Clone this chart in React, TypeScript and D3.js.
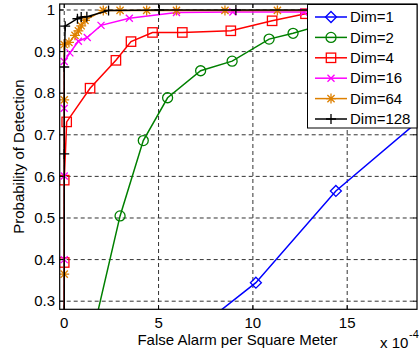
import React from "react";
import * as d3 from "d3";

const xTicks = [0, 5, 10, 15];
const yTicks = [0.3, 0.4, 0.5, 0.6, 0.7, 0.8, 0.9, 1];
const yTickLabels = ["0.3", "0.4", "0.5", "0.6", "0.7", "0.8", "0.9", "1"];

const dim1X = [6.0, 10.16, 14.4, 20.0];
const dim1Y = [0.196, 0.3445, 0.565, 0.78];

const dim2X = [1.5, 2.96, 4.19, 5.48, 7.23, 8.9, 10.86, 12.13, 14.5];
const dim2Y = [0.22, 0.505, 0.686, 0.789, 0.854, 0.877, 0.93, 0.944, 0.975];

const dim4X = [0, 0, 0, 0.13, 1.37, 2.74, 3.54, 4.68, 6.26, 8.83, 11.02, 12.79, 15.5];
const dim4Y = [0.2, 0.393, 0.591, 0.731, 0.812, 0.879, 0.924, 0.946, 0.946, 0.95, 0.974, 0.991, 0.998];

const dim16X = [0, 0, 0, 0, 0, 0.3, 0.75, 1.22, 1.95, 3.45, 5.95, 8.94, 12.7, 16];
const dim16Y = [0.2, 0.4, 0.601, 0.764, 0.876, 0.897, 0.925, 0.934, 0.963, 0.98, 0.994, 0.995, 0.995, 0.998];

const dim64X = [0, 0, 0, 0, 0.25, 0.57, 0.75, 0.9, 1.1, 2.07, 2.96, 4.37, 5.95, 8.52, 11.3, 14.5, 17.5];
const dim64Y = [0.2, 0.365, 0.784, 0.917, 0.922, 0.939, 0.95, 0.962, 0.975, 0.999, 0.999, 0.999, 0.999, 0.999, 0.999, 0.999, 0.999];

const dim128X = [0, 0, 0, 0.05, 0.7, 0.9, 1.2, 2.35, 5.04, 9.1, 14.0, 19.5];
const dim128Y = [0.1, 0.654, 0.863, 0.961, 0.979, 0.983, 0.984, 0.999, 1.0, 1.0, 1.0, 1.0];

const seriesNames = ["Dim=1", "Dim=2", "Dim=4", "Dim=16", "Dim=64", "Dim=128"];
const seriesColors = ["#0000ff", "#008000", "#ff0000", "#ff00ff", "#de8000", "#000000"];
const seriesMarkers = ["diamond", "circle", "square", "x", "star", "plus"];

const W = 420, H = 351;
const left = 59.7, right = 417, top = 4, bottom = 309.3;

function Marker({ type, x, y, color }: { type: string; x: number; y: number; color: string }) {
  const sw = 1.3;
  if (type === "diamond") {
    const r = 5.5;
    return <path d={`M${x},${y - r}L${x + r},${y}L${x},${y + r}L${x - r},${y}Z`} fill="none" stroke={color} strokeWidth={sw} />;
  }
  if (type === "circle") return <circle cx={x} cy={y} r={5} fill="none" stroke={color} strokeWidth={sw} />;
  if (type === "square") return <rect x={x - 4.7} y={y - 4.7} width={9.4} height={9.4} fill="none" stroke={color} strokeWidth={sw} />;
  if (type === "x") {
    const r = 3.5;
    return <path d={`M${x - r},${y - r}L${x + r},${y + r}M${x - r},${y + r}L${x + r},${y - r}`} stroke={color} strokeWidth={sw} />;
  }
  if (type === "star") {
    const r = 5, d = 3.6;
    return <path d={`M${x - r},${y}L${x + r},${y}M${x},${y - r}L${x},${y + r}M${x - d},${y - d}L${x + d},${y + d}M${x - d},${y + d}L${x + d},${y - d}`} stroke={color} strokeWidth={sw} />;
  }
  const r = 5;
  return <path d={`M${x - r},${y}L${x + r},${y}M${x},${y - r}L${x},${y + r}`} stroke={color} strokeWidth={sw} />;
}

export default function App() {
  const xScale = d3.scaleLinear().domain([-0.24, 18.7]).range([left, right]);
  const yScale = d3.scaleLinear().domain([0.2805, 1.0144]).range([bottom, top]);
  const allX = [dim1X, dim2X, dim4X, dim16X, dim64X, dim128X];
  const allY = [dim1Y, dim2Y, dim4Y, dim16Y, dim64Y, dim128Y];
  const line = d3.line<[number, number]>().x((d) => xScale(d[0])).y((d) => yScale(d[1]));
  const font = "Arial, 'Liberation Sans', sans-serif";

  const legX = 307.5, legY = 4.5, legW = 109.5, legH = 123.5;
  const rowY = (i: number) => 17 + i * 20.4;

  return (
    <svg width={W} height={H} style={{ position: "absolute", left: 0, top: 0, background: "#fff" }} fontFamily={font}>
      <defs>
        <clipPath id="plotclip">
          <rect x={left} y={top} width={right - left} height={bottom - top} />
        </clipPath>
      </defs>
      <rect x={0} y={0} width={W} height={H} fill="#fff" />
      {/* grid */}
      {yTicks.map((t) => (
        <line key={"gy" + t} x1={left} x2={right} y1={yScale(t)} y2={yScale(t)} stroke="#333" strokeWidth={1} strokeDasharray="4,3" />
      ))}
      {xTicks.map((t) => (
        <line key={"gx" + t} x1={xScale(t)} x2={xScale(t)} y1={top} y2={bottom} stroke="#333" strokeWidth={1} strokeDasharray="4,3" />
      ))}
      {/* series */}
      <g clipPath="url(#plotclip)">
        {allX.map((xs, i) => {
          const pts: [number, number][] = xs.map((x, j) => [x, allY[i][j]]);
          return (
            <g key={"s" + i}>
              <path d={line(pts) || ""} fill="none" stroke={seriesColors[i]} strokeWidth={1.5} />
              {pts.map((p, j) => (
                <Marker key={j} type={seriesMarkers[i]} x={xScale(p[0])} y={yScale(p[1])} color={seriesColors[i]} />
              ))}
            </g>
          );
        })}
      </g>
      {/* axes box */}
      <rect x={left} y={top} width={right - left} height={bottom - top} fill="none" stroke="#000" strokeWidth={1.2} />
      {yTicks.map((t, i) => (
        <g key={"yt" + t}>
          <line x1={left} x2={left + 4} y1={yScale(t)} y2={yScale(t)} stroke="#000" />
          <line x1={right} x2={right - 4} y1={yScale(t)} y2={yScale(t)} stroke="#000" />
          <text x={55} y={yScale(t)} dy="0.35em" textAnchor="end" fontSize={15} fill="#000">{yTickLabels[i]}</text>
        </g>
      ))}
      {xTicks.map((t) => (
        <g key={"xt" + t}>
          <line x1={xScale(t)} x2={xScale(t)} y1={bottom} y2={bottom - 4} stroke="#000" />
          <line x1={xScale(t)} x2={xScale(t)} y1={top} y2={top + 4} stroke="#000" />
          <text x={xScale(t)} y={327.5} textAnchor="middle" fontSize={15} fill="#000">{String(t)}</text>
        </g>
      ))}
      <text x={237.5} y={345} textAnchor="middle" fontSize={15} fill="#000">False Alarm per Square Meter</text>
      <text x={380} y={348} fontSize={15} fill="#000">x 10</text>
      <text x={409} y={338} fontSize={11} fill="#000">-4</text>
      <text transform={`translate(24,${(top + bottom) / 2}) rotate(-90)`} textAnchor="middle" fontSize={15} fill="#000">Probability of Detection</text>
      {/* legend */}
      <rect x={legX} y={legY} width={legW} height={legH} fill="#fff" stroke="#000" strokeWidth={1} />
      {seriesNames.map((n, i) => (
        <g key={"lg" + i}>
          <line x1={315} x2={347} y1={rowY(i)} y2={rowY(i)} stroke={seriesColors[i]} strokeWidth={1.5} />
          <Marker type={seriesMarkers[i]} x={331} y={rowY(i)} color={seriesColors[i]} />
          <text x={350} y={rowY(i)} dy="0.35em" fontSize={15} fill="#000">{n}</text>
        </g>
      ))}
    </svg>
  );
}
